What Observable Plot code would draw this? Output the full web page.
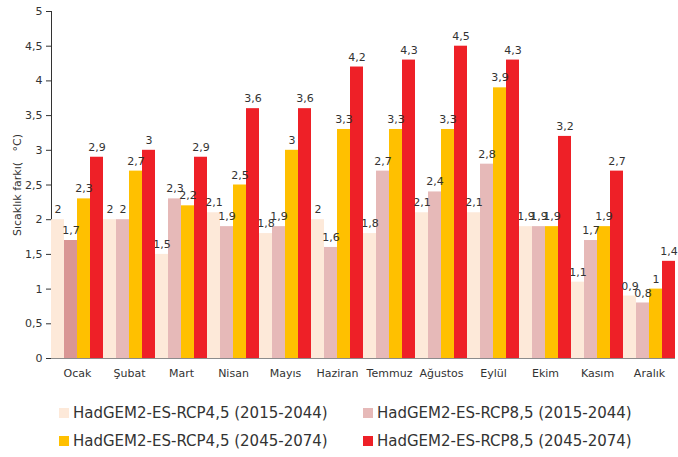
<!DOCTYPE html>
<html>
<head>
<meta charset="utf-8">
<script src="https://cdn.jsdelivr.net/npm/d3@7"></script>
<script src="https://cdn.jsdelivr.net/npm/@observablehq/plot@0.6"></script>
<style>
  body { margin: 0; background: #fff; font-family: "DejaVu Sans", sans-serif; }
  #chart svg { display: block; }
  #chart [aria-label="y-axis tick"], #chart [aria-label="y-axis line"] { stroke: #8c8c8c; }
  .legend { display: grid; grid-template-columns: 304px 304px; padding-left: 59px; margin-top: 9px; color: #333; font-size: 15px; }
  .item { display: flex; align-items: center; height: 28px; white-space: nowrap; }
  .sw { width: 10px; height: 10px; margin-right: 4px; flex: none; }
</style>
</head>
<body>
<div id="chart"></div>
<div class="legend" id="legend"></div>
<script>
// Months (Turkish)
const months = ["Ocak", "Şubat", "Mart", "Nisan", "Mayıs", "Haziran", "Temmuz", "Ağustos", "Eylül", "Ekim", "Kasım", "Aralık"];

// Scenario names
const seriesNames = [
  "HadGEM2-ES-RCP4,5 (2015-2044)",
  "HadGEM2-ES-RCP8,5 (2015-2044)",
  "HadGEM2-ES-RCP4,5 (2045-2074)",
  "HadGEM2-ES-RCP8,5 (2045-2074)"
];

// Temperature difference (°C) per month
const rcp45Near = [2, 2, 1.5, 2.1, 1.8, 2, 1.8, 2.1, 2.1, 1.9, 1.1, 0.9];
const rcp85Near = [1.7, 2, 2.3, 1.9, 1.9, 1.6, 2.7, 2.4, 2.8, 1.9, 1.7, 0.8];
const rcp45Far  = [2.3, 2.7, 2.2, 2.5, 3, 3.3, 3.3, 3.3, 3.9, 1.9, 1.9, 1];
const rcp85Far  = [2.9, 3, 2.9, 3.6, 3.6, 4.2, 4.3, 4.5, 4.3, 3.2, 2.7, 1.4];

// Y axis ticks
const yTicks = [0, 0.5, 1, 1.5, 2, 2.5, 3, 3.5, 4, 4.5, 5];

const colors = ["#FDE9D9", "#E6B9B8", "#FFC000", "#EE2027"];
const highlightColor = "#D99694";

const seriesValues = [rcp45Near, rcp85Near, rcp45Far, rcp85Far];
const rows = months.flatMap((m, i) =>
  seriesNames.map((s, j) => ({ month: m, series: s, value: seriesValues[j][i] }))
);
const fmt = v => String(v).replace(".", ",");

const chart = Plot.plot({
  width: 678,
  height: 390,
  marginTop: 11,
  marginBottom: 32,
  marginLeft: 48,
  marginRight: 0,
  style: { fontFamily: "DejaVu Sans, sans-serif", fontSize: "11px", color: "#333", background: "#fff" },
  fx: { domain: months, padding: 0, label: null, tickSize: 0, tickPadding: 11 },
  x: { domain: seriesNames, padding: 0, axis: null },
  y: {
    domain: [0, 5],
    ticks: yTicks,
    tickFormat: fmt,
    tickSize: 5,
    tickPadding: 4,
    line: true,
    label: "Sıcaklık farkı(\u00a0\u00a0\u00a0°C)",
    labelAnchor: "center",
    labelArrow: "none",
    labelOffset: 38
  },
  color: { domain: seriesNames, range: colors },
  marks: [
    Plot.barY(rows, { fx: "month", x: "series", y: "value", fill: "series" }),
    // selected January bar drawn in a deeper tone
    Plot.barY(rows.filter(d => d.month === "Ocak" && d.series === seriesNames[1]),
      { fx: "month", x: "series", y: "value", fill: highlightColor }),
    Plot.ruleY([0], { stroke: "#8c8c8c" }),
    Plot.text(rows, { fx: "month", x: "series", y: "value", text: d => fmt(d.value), dy: -10, fill: "#333", fontSize: 11 })
  ]
});
document.getElementById("chart").append(chart);

const legend = document.getElementById("legend");
const order = [0, 1, 2, 3];
order.forEach(j => {
  const item = document.createElement("div");
  item.className = "item";
  const sw = document.createElement("span");
  sw.className = "sw";
  sw.style.background = colors[j];
  const label = document.createElement("span");
  label.textContent = seriesNames[j];
  item.append(sw, label);
  legend.append(item);
});
</script>
</body>
</html>
